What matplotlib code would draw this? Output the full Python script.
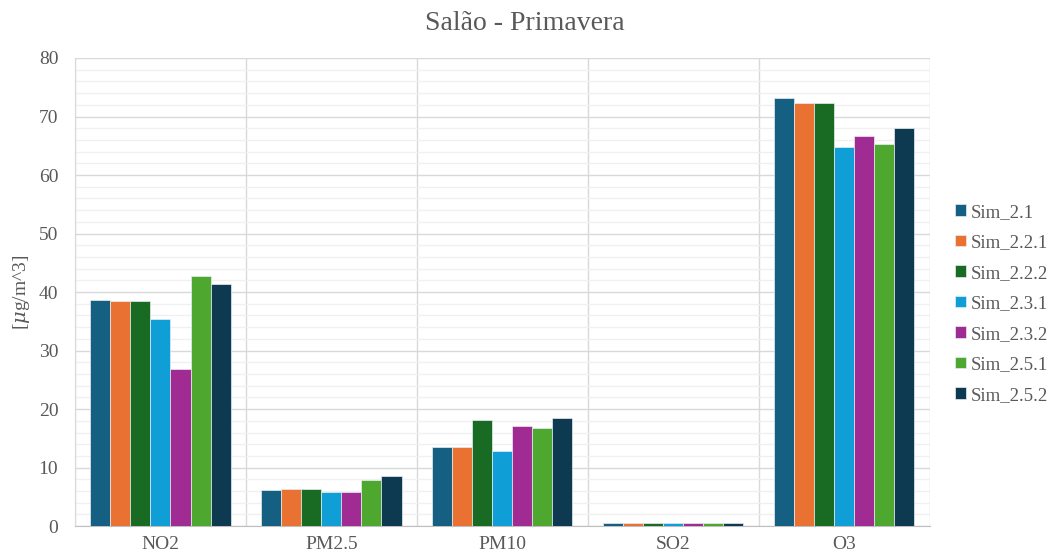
import numpy as np
import matplotlib
matplotlib.use("Agg")
import matplotlib.pyplot as plt
from matplotlib.ticker import MultipleLocator, FixedLocator

plt.rcParams['font.family'] = ['Liberation Serif', 'DejaVu Serif']
plt.rcParams['mathtext.fontset'] = 'dejavuserif'

# datos
contaminantes = ["NO2", "PM2.5", "PM10", "SO2", "O3"]
simulaciones = ["Sim_2.1", "Sim_2.2.1", "Sim_2.2.2", "Sim_2.3.1",
                "Sim_2.3.2", "Sim_2.5.1", "Sim_2.5.2"]
sim_2_1 = [38.7, 6.1, 13.6, 0.5, 73.2]
sim_2_2_1 = [38.5, 6.3, 13.6, 0.5, 72.3]
sim_2_2_2 = [38.5, 6.3, 18.1, 0.5, 72.3]
sim_2_3_1 = [35.4, 5.8, 12.8, 0.5, 64.8]
sim_2_3_2 = [26.9, 5.8, 17.1, 0.5, 66.7]
sim_2_5_1 = [42.7, 7.8, 16.7, 0.5, 65.3]
sim_2_5_2 = [41.4, 8.5, 18.5, 0.5, 68.1]
valores = [sim_2_1, sim_2_2_1, sim_2_2_2, sim_2_3_1, sim_2_3_2, sim_2_5_1, sim_2_5_2]

colores = ["#156082", "#E97132", "#196B24", "#0F9ED5", "#A02B93", "#4EA72E", "#0E3A51"]
gris = "#595959"

fig = plt.figure(figsize=(10.49, 5.55), dpi=100)
ax = fig.add_axes([0.0715, 0.052, 0.815, 0.8435])

x = np.arange(len(contaminantes))
n = len(simulaciones)
ancho = 0.117
for i, (nombre, vals) in enumerate(zip(simulaciones, valores)):
    pos = x + (i - (n - 1) / 2) * ancho
    ax.bar(pos, vals, width=ancho, color=colores[i], label=nombre,
           edgecolor="#e8eef2", linewidth=0.5, zorder=3)

ax.set_xlim(-0.5, len(contaminantes) - 0.5)
ax.set_ylim(0, 80)
ax.yaxis.set_major_locator(MultipleLocator(10))
ax.yaxis.set_minor_locator(MultipleLocator(2))
ax.set_xticks(x)
ax.set_xticklabels(contaminantes)
ax.xaxis.set_minor_locator(FixedLocator(np.arange(-0.5, len(contaminantes), 1.0)))

ax.grid(which="minor", axis="y", color="#f0f0f0", linewidth=1.0, zorder=0)
ax.grid(which="major", axis="y", color="#d9d9d9", linewidth=1.0, zorder=1)
ax.grid(which="minor", axis="x", color="#d9d9d9", linewidth=1.0, zorder=1)

ax.tick_params(which="both", length=0)
ax.tick_params(axis="both", labelsize=14, labelcolor=gris)
ax.tick_params(axis="x", pad=7)
ax.tick_params(axis="y", pad=12)
for s in ["top", "right"]:
    ax.spines[s].set_visible(False)
ax.spines["left"].set_color("#d9d9d9")
ax.spines["bottom"].set_color("#bfbfbf")

ax.set_ylabel("[$\\mu$g/m^3]", fontsize=14, color=gris, labelpad=5)
fig.suptitle("Salão - Primavera", fontsize=20, color=gris, y=0.98)

ax.legend(loc="center left", bbox_to_anchor=(1.01, 0.475), frameon=False,
          fontsize=13.5, labelcolor=gris, handlelength=0.55, handleheight=0.55,
          handletextpad=0.25, labelspacing=0.72)

fig.savefig("out.png", dpi=100)
